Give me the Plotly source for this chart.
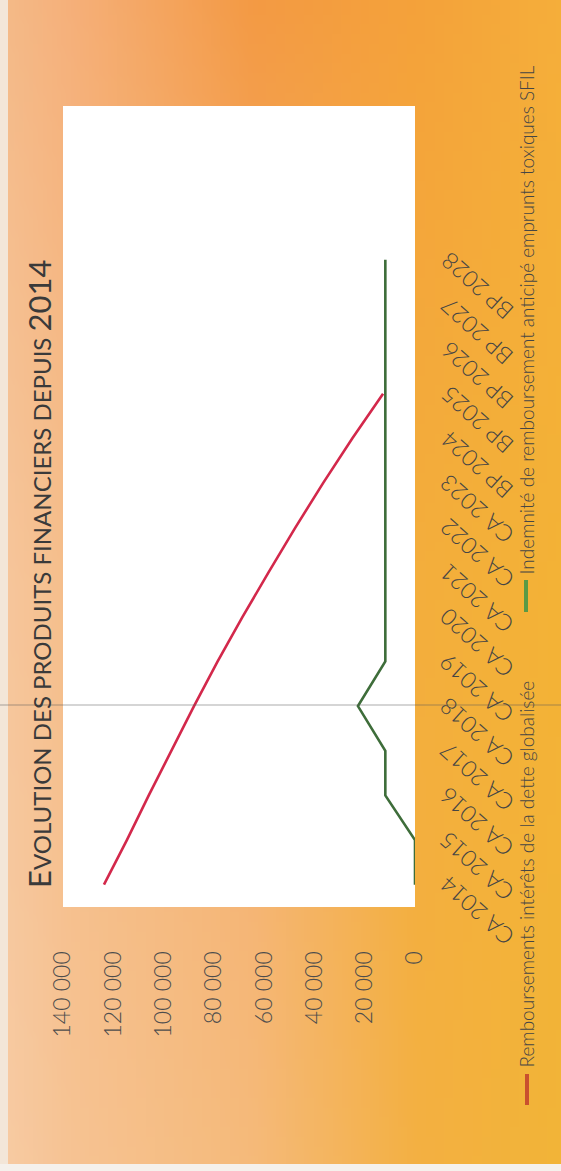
import plotly.graph_objects as go
import zlib, struct, base64

W, H = 561, 1171

# ---------------- data ----------------
categories = ["CA 2014", "CA 2015", "CA 2016", "CA 2017", "CA 2018", "CA 2019",
              "CA 2020", "CA 2021", "CA 2022", "CA 2023",
              "BP 2024", "BP 2025", "BP 2026", "BP 2027", "BP 2028"]
remboursements = [123700, 114600, 105900, 97000, 87900, 78500, 68600, 58200,
                  47600, 36500, 24900, 12700, None, None, None]
indemnite = [0, 0, 11800, 11800, 22700, 11800, 11800, 11800, 11800, 11800,
             11800, 11800, 11800, 11800, 11800]
value_ticks = [0, 20000, 40000, 60000, 80000, 100000, 120000, 140000]
value_tick_labels = ["0", "20 000", "40 000", "60 000", "80 000", "100 000",
                     "120 000", "140 000"]
series_names = ["Remboursements intérêts de la dette globalisée",
                "Indemnité de remboursement anticipé emprunts toxiques SFIL"]
title_first = "E"
title_middle = "VOLUTION DES PRODUITS FINANCIERS DEPUIS"
title_last = "2014"

# ---------------- helpers ----------------
def px_x(p):
    return p / W

def px_y(p):
    return 1 - p / H

def hex2rgb(h):
    h = h.lstrip('#')
    return tuple(int(h[i:i + 2], 16) for i in (0, 2, 4))

# background gradient (scanned orange slide)
gu = [0.0, 0.12, 0.45, 0.75, 1.0]
gv = [0.0, 0.5, 1.0]
grid = [
    ["#F4BA88", "#F5B07A", "#F39A44", "#F4A23A", "#F5AE3A"],
    ["#F6C69C", "#F5BE8A", "#F5B070", "#F3AE3C", "#F3B236"],
    ["#F7CBA3", "#F6C393", "#F5BA7A", "#F3B042", "#F2B438"],
]
grid = [[hex2rgb(c) for c in row] for row in grid]

def interp1(xs, x):
    for i in range(len(xs) - 1):
        if xs[i] <= x <= xs[i + 1]:
            return i, (x - xs[i]) / (xs[i + 1] - xs[i])
    return len(xs) - 2, 1.0

def color_at(u, v):
    i, fu = interp1(gu, u)
    j, fv = interp1(gv, v)
    out = []
    for k in range(3):
        a = grid[j][i][k] * (1 - fu) + grid[j][i + 1][k] * fu
        b = grid[j + 1][i][k] * (1 - fu) + grid[j + 1][i + 1][k] * fu
        out.append(int(round(a * (1 - fv) + b * fv)))
    return out

def make_png(w, h):
    rows = []
    for y in range(h):
        row = bytearray(b'\x00')
        for x in range(w):
            row.extend(color_at(x / (w - 1), y / (h - 1)))
        rows.append(bytes(row))
    raw = b''.join(rows)

    def chunk(t, d):
        return (struct.pack('>I', len(d)) + t + d +
                struct.pack('>I', zlib.crc32(t + d) & 0xffffffff))
    return (b'\x89PNG\r\n\x1a\n' +
            chunk(b'IHDR', struct.pack('>IIBBBBB', w, h, 8, 2, 0, 0, 0)) +
            chunk(b'IDAT', zlib.compress(raw, 9)) + chunk(b'IEND', b''))

bg_uri = "data:image/png;base64," + base64.b64encode(make_png(60, 120)).decode()

FONT = "Lato, 'Open Sans', sans-serif"
TXT = "#454545"

# ---------------- figure ----------------
fig = go.Figure()
fig.add_trace(go.Scatter(x=remboursements, y=categories, mode="lines",
                         line=dict(color="#D3284B", width=2.6),
                         name=series_names[0], showlegend=False,
                         connectgaps=False))
fig.add_trace(go.Scatter(x=indemnite, y=categories, mode="lines",
                         line=dict(color="#3E6D3A", width=2.6),
                         name=series_names[1], showlegend=False))

plot_top, plot_bottom = 106, 907
plot_left, plot_right = 63, 415
cat_step = 44.64
n_span = (plot_bottom - plot_top) / cat_step

annotations = []
# category labels (rotated chart)
for c in categories:
    annotations.append(dict(x=px_x(477), xref="paper", y=c, yref="y",
                            text=c, showarrow=False, textangle=-138,
                            yshift=-27, xanchor="center", yanchor="middle",
                            font=dict(family=FONT, size=23, color=TXT, weight=300)))
# title
annotations.append(dict(
    x=px_x(39), xref="paper", y=px_y(890), yref="paper",
    text=(title_first + "<span style='font-size:24px'>" + title_middle +
          " </span>" + title_last),
    showarrow=False, textangle=-90, xanchor="center", yanchor="bottom",
    font=dict(family=FONT, size=31, color="#3a3a3a")))
# legend texts
annotations.append(dict(x=px_x(526), xref="paper", y=px_y(1070), yref="paper",
                        text=series_names[0], showarrow=False, textangle=-90,
                        xanchor="center", yanchor="bottom",
                        font=dict(family=FONT, size=19, color=TXT, weight=300)))
annotations.append(dict(x=px_x(526), xref="paper", y=px_y(577), yref="paper",
                        text=series_names[1], showarrow=False, textangle=-90,
                        xanchor="center", yanchor="bottom",
                        font=dict(family=FONT, size=19, color=TXT, weight=300)))

shapes = [
    # white chart area
    dict(type="rect", xref="x domain", yref="y domain", x0=0, x1=1, y0=0, y1=1,
         fillcolor="white", line=dict(width=0), layer="below"),
    # legend keys
    dict(type="line", xref="paper", yref="paper", x0=px_x(527), x1=px_x(527),
         y0=px_y(1074), y1=px_y(1105), line=dict(color="#C9502E", width=4)),
    dict(type="line", xref="paper", yref="paper", x0=px_x(526), x1=px_x(526),
         y0=px_y(580), y1=px_y(612), line=dict(color="#5A9A45", width=4)),
    # scan crease
    dict(type="line", xref="paper", yref="paper", x0=0, x1=1,
         y0=px_y(705), y1=px_y(705), line=dict(color="rgba(90,90,90,0.5)", width=1)),
    # scan borders
    dict(type="rect", xref="paper", yref="paper", x0=0, x1=px_x(8), y0=0, y1=1,
         fillcolor="#F3E6D8", line=dict(width=0), layer="below"),
    dict(type="rect", xref="paper", yref="paper", x0=0, x1=1, y0=0, y1=px_y(1164),
         fillcolor="#F5F1EC", line=dict(width=0), layer="below"),
]

fig.update_layout(
    template="none",
    width=W, height=H,
    margin=dict(l=0, r=0, t=0, b=0, pad=0, autoexpand=False),
    paper_bgcolor="#F4B060",
    plot_bgcolor="white",
    showlegend=False,
    images=[dict(source=bg_uri, xref="paper", yref="paper", x=0, y=1,
                 sizex=1, sizey=1, sizing="stretch", layer="below",
                 xanchor="left", yanchor="top")],
    annotations=annotations,
    shapes=shapes,
    xaxis=dict(domain=[px_x(plot_left), px_x(plot_right)],
               range=[140000, 0], tickvals=value_ticks,
               ticktext=value_tick_labels, tickangle=-90,
               ticks="outside", ticklen=34, tickcolor="rgba(0,0,0,0)",
               showgrid=False, zeroline=False, showline=False,
               automargin=False,
               tickfont=dict(family=FONT, size=23, color="#4d4d4d", weight=300),
               fixedrange=True),
    yaxis=dict(domain=[px_y(plot_bottom), px_y(plot_top)],
               type="category", categoryorder="array", categoryarray=categories,
               range=[-0.5, -0.5 + n_span], showticklabels=False,
               showgrid=False, zeroline=False, showline=False, ticks="",
               automargin=False, fixedrange=True),
)

fig.write_html("out.html")
